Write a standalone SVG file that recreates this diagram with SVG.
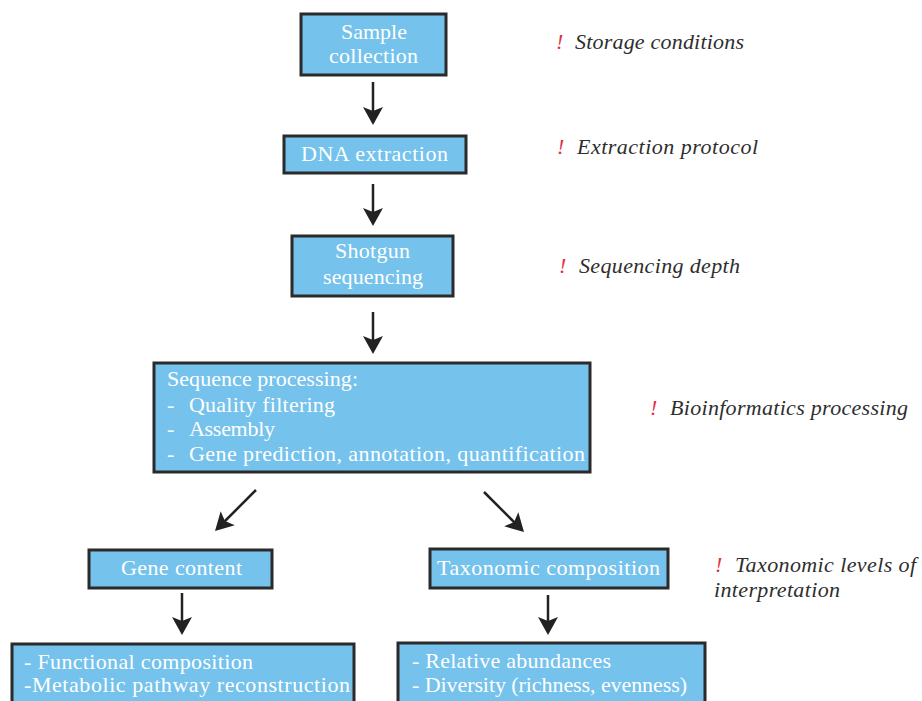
<svg xmlns="http://www.w3.org/2000/svg" width="922" height="701" viewBox="0 0 922 701">
<style>
.box{fill:#75c2ec;stroke:#2a2a2a;stroke-width:3}
.bt{font-family:"Liberation Serif",serif;font-size:22px;fill:#ffffff}
.nt{font-family:"Liberation Serif",serif;font-style:italic;font-size:22px;fill:#2e2e2e}
.ex{font-family:"Liberation Serif",serif;font-style:italic;font-size:22px;fill:#e03040}
.ar{stroke:#222;stroke-width:2.5;fill:none}
</style>
<defs>
<marker id="ah" markerUnits="userSpaceOnUse" viewBox="-8 -11 22 22" markerWidth="22" markerHeight="22" refX="0" refY="0" orient="auto">
<path d="M12,0 L-6,-10 L-2,0 L-6,10 Z" fill="#222"/>
</marker>
</defs>
<rect width="922" height="701" fill="#ffffff"/>
<g id="connectors">
<line class="ar" x1="373" y1="82" x2="373" y2="113" marker-end="url(#ah)"/>
<line class="ar" x1="373" y1="184" x2="373" y2="214" marker-end="url(#ah)"/>
<line class="ar" x1="373" y1="312" x2="373" y2="342" marker-end="url(#ah)"/>
<line class="ar" x1="256" y1="490" x2="223.5" y2="522.5" marker-end="url(#ah)"/>
<line class="ar" x1="484" y1="492" x2="515.5" y2="523.5" marker-end="url(#ah)"/>
<line class="ar" x1="182" y1="593" x2="182" y2="623" marker-end="url(#ah)"/>
<line class="ar" x1="548" y1="595" x2="548" y2="623" marker-end="url(#ah)"/>
</g>
<g id="sample">
<rect class="box" x="301" y="14" width="145" height="61"/>
<text class="bt" x="341" y="39" textLength="66">Sample</text>
<text class="bt" x="329" y="63" textLength="89">collection</text>
</g>
<g id="dna">
<rect class="box" x="284" y="136" width="182" height="37"/>
<text class="bt" x="301" y="161" textLength="147">DNA extraction</text>
</g>
<g id="shotgun">
<rect class="box" x="292" y="236" width="161" height="60"/>
<text class="bt" x="335" y="258" textLength="75">Shotgun</text>
<text class="bt" x="323" y="284" textLength="100">sequencing</text>
</g>
<g id="processing">
<rect class="box" x="154" y="363" width="436" height="109"/>
<text class="bt" x="167" y="386" textLength="191">Sequence processing:</text>
<text class="bt" x="167" y="412">-</text>
<text class="bt" x="189" y="412" textLength="146">Quality filtering</text>
<text class="bt" x="167" y="436">-</text>
<text class="bt" x="189" y="436" textLength="86">Assembly</text>
<text class="bt" x="167" y="461">-</text>
<text class="bt" x="189" y="461" textLength="396">Gene prediction, annotation, quantification</text>
</g>
<g id="gene">
<rect class="box" x="89" y="550" width="183" height="38"/>
<text class="bt" x="121" y="575" textLength="121">Gene content</text>
</g>
<g id="taxonomic">
<rect class="box" x="430" y="549" width="238" height="39"/>
<text class="bt" x="437" y="575" textLength="223">Taxonomic composition</text>
</g>
<g id="functional">
<rect class="box" x="12" y="644" width="342" height="80"/>
<text class="bt" x="24" y="669" textLength="229">- Functional composition</text>
<text class="bt" x="24" y="692" textLength="326">-Metabolic pathway reconstruction</text>
</g>
<g id="diversity">
<rect class="box" x="398" y="643" width="307" height="80"/>
<text class="bt" x="412" y="668" textLength="199">- Relative abundances</text>
<text class="bt" x="412" y="692" textLength="275">- Diversity (richness, evenness)</text>
</g>
<g id="notes">
<text class="ex" x="556" y="49">!</text>
<text class="nt" x="575" y="49" textLength="169">Storage conditions</text>
<text class="ex" x="557" y="154">!</text>
<text class="nt" x="577" y="154" textLength="181">Extraction protocol</text>
<text class="ex" x="559" y="273">!</text>
<text class="nt" x="579" y="273" textLength="161">Sequencing depth</text>
<text class="ex" x="650" y="415">!</text>
<text class="nt" x="670" y="415" textLength="238">Bioinformatics processing</text>
<text class="ex" x="715" y="572">!</text>
<text class="nt" x="735" y="572" textLength="181">Taxonomic levels of</text>
<text class="nt" x="714" y="597" textLength="126">interpretation</text>
</g>
</svg>
